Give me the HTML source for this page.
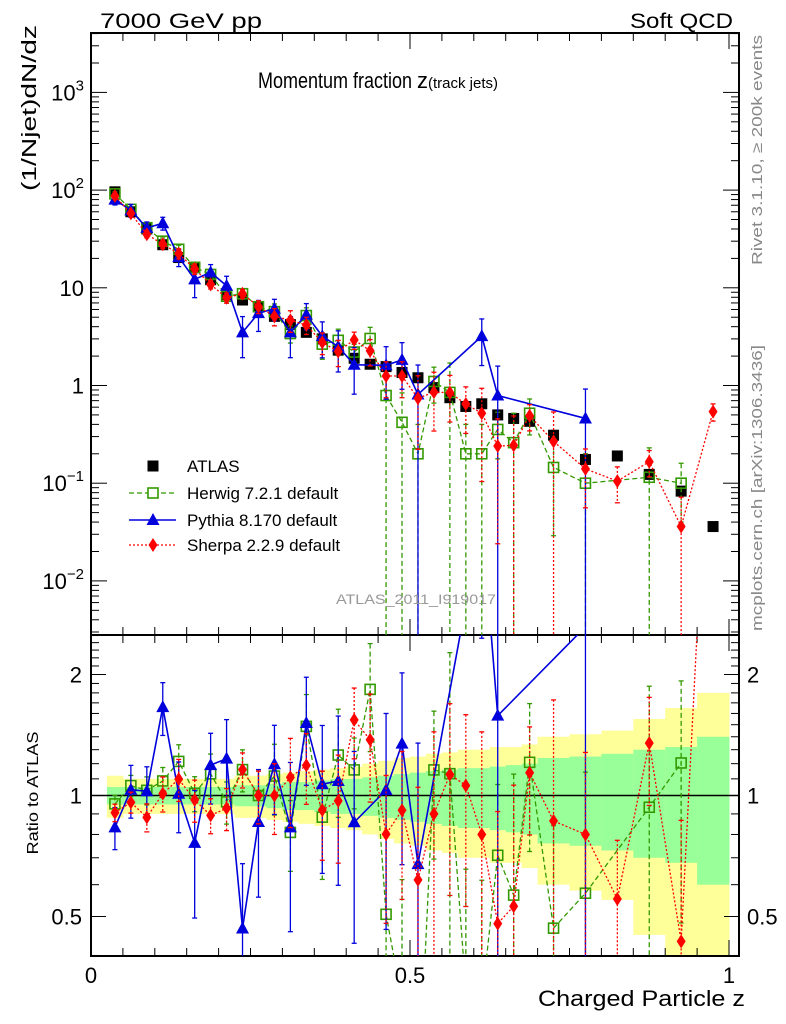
<!DOCTYPE html>
<html><head><meta charset="utf-8">
<style>
html,body{margin:0;padding:0;background:#fff;width:786px;height:1024px;overflow:hidden;}
svg{display:block;font-family:"Liberation Sans",Arial,sans-serif;}
</style></head>
<body>
<svg id="chart" width="786" height="1024" viewBox="0 0 786 1024" xmlns="http://www.w3.org/2000/svg" overflow="hidden">
<defs>
<clipPath id="clipU"><rect x="91" y="33" width="648" height="602"/></clipPath>
<clipPath id="clipR"><rect x="91" y="635" width="648" height="321"/></clipPath>
</defs>
<rect x="0" y="0" width="786" height="1024" fill="#fff"/>
<g id="bands" clip-path="url(#clipR)"></g>
<g id="axes"></g>
<g id="marksU" clip-path="url(#clipU)"></g>
<g id="marksR" clip-path="url(#clipR)"></g>
<text x="100" y="28" font-size="21" textLength="162" lengthAdjust="spacingAndGlyphs">7000 GeV pp</text>
<text x="733" y="28" font-size="21" text-anchor="end" textLength="103" lengthAdjust="spacingAndGlyphs">Soft QCD</text>
<text x="258" y="88" font-size="22"><tspan textLength="159" lengthAdjust="spacingAndGlyphs">Momentum fraction </tspan><tspan font-size="22">z</tspan><tspan font-size="15">(track jets)</tspan></text>
<text transform="translate(36,108) rotate(-90)" font-size="20" text-anchor="middle" textLength="166" lengthAdjust="spacingAndGlyphs">(1/Njet)dN/dz</text>
<text transform="translate(38,793) rotate(-90)" font-size="16" text-anchor="middle" textLength="123" lengthAdjust="spacingAndGlyphs">Ratio to ATLAS</text>
<text x="745" y="1006" font-size="22" text-anchor="end" textLength="207" lengthAdjust="spacingAndGlyphs">Charged Particle z</text>
<text transform="translate(762,150) rotate(-90)" font-size="15" fill="#888" text-anchor="middle" textLength="230" lengthAdjust="spacingAndGlyphs">Rivet 3.1.10, ≥ 200k events</text>
<text transform="translate(762,488) rotate(-90)" font-size="15" fill="#888" text-anchor="middle" textLength="286" lengthAdjust="spacingAndGlyphs">mcplots.cern.ch [arXiv:1306.3436]</text>
<text x="416" y="604" font-size="14" fill="#999" text-anchor="middle" textLength="160" lengthAdjust="spacingAndGlyphs">ATLAS_2011_I919017</text>
<g id="legend"></g>
</svg>
<script>
// ---- data ----
const zCenters = [0.0375,0.0625,0.0875,0.1125,0.1375,0.1625,0.1875,0.2125,0.2375,0.2625,0.2875,0.3125,0.3375,0.3625,0.3875,0.4125,0.4375,0.4625,0.4875,0.5125,0.5375,0.5625,0.5875,0.6125,0.6375,0.6625,0.6875,0.725,0.775,0.825,0.875,0.925,0.975];
const zWidths = [0.025,0.025,0.025,0.025,0.025,0.025,0.025,0.025,0.025,0.025,0.025,0.025,0.025,0.025,0.025,0.025,0.025,0.025,0.025,0.025,0.025,0.025,0.025,0.025,0.025,0.025,0.025,0.05,0.05,0.05,0.05,0.05,0.05];
const atlasValues = [96,60,40,27.6,20.4,16,12.1,8.5,7.5,6.4,5.1,4.2,3.5,3.0,2.3,1.9,1.65,1.56,1.36,1.2,0.95,0.75,0.61,0.65,0.5,0.46,0.43,0.31,0.175,0.19,0.123,0.083,0.036];
const atlasErrOuter = [0.12,0.1,0.1,0.1,0.1,0.1,0.1,0.1,0.12,0.12,0.13,0.14,0.15,0.16,0.17,0.18,0.2,0.22,0.24,0.25,0.27,0.28,0.3,0.3,0.32,0.32,0.34,0.4,0.42,0.45,0.55,0.65,0.8];
const atlasErrInner = [0.05,0.05,0.05,0.05,0.05,0.05,0.05,0.05,0.06,0.06,0.07,0.08,0.08,0.09,0.1,0.1,0.11,0.12,0.13,0.14,0.15,0.16,0.17,0.17,0.18,0.19,0.2,0.24,0.25,0.27,0.3,0.32,0.4];
const herwigValues = [91.5,63.5,41.2,30,24.8,16.2,13.7,8.2,8.7,6.4,5.7,3.4,5.2,2.65,2.9,2.2,3.03,0.79,0.42,0.2,1.1,0.85,0.2,0.2,0.355,0.26,0.52,0.145,0.1,null,0.115,0.1,null];
const herwigRelErr = [0.05,0.06,0.08,0.08,0.1,0.1,0.12,0.12,0.12,0.15,0.2,0.2,0.2,0.3,0.3,0.2,0.3,1.0,1.0,1.0,0.4,1.0,1.0,1.0,0.5,1.0,0.4,0.8,1.0,null,1.0,0.6,null];
const pythiaValues = [80,62,41,45.8,20.6,12.2,14.4,10.5,3.5,5.5,6.1,3.5,5.3,3.2,2.5,1.63,null,1.61,1.83,0.81,null,null,null,3.2,0.79,null,null,null,0.46,null,null,null,null];
const pythiaRelErr = [0.12,0.15,0.15,0.15,0.2,0.35,0.2,0.25,0.45,0.35,0.25,0.45,0.3,0.4,0.45,0.5,null,0.55,0.5,1.0,null,null,null,0.5,1.0,null,null,null,1.0,null,null,null,null];
const sherpaValues = [87,57.7,35.3,27.9,22.4,15.6,10.8,7.9,8.7,6.4,5.1,4.66,4.16,2.76,2.23,2.93,2.27,1.25,1.25,0.74,0.855,0.846,0.646,0.52,0.24,0.244,0.49,0.268,0.14,0.105,0.166,0.036,0.54];
const sherpaRelErr = [0.05,0.06,0.08,0.1,0.12,0.12,0.1,0.12,0.1,0.15,0.2,0.25,0.2,0.25,0.3,0.2,0.3,0.4,0.4,0.7,0.6,0.5,0.5,0.8,0.9,1.0,0.3,1.0,0.6,0.4,0.3,1.0,0.2];
const upperTickDecades = [-2,-1,0,1,2,3];
const upperTickLabels = ["10","10","1","10","10","10"];
const upperTickExps = ["−2","−1","","","2","3"];
const ratioTickValues = [0.5,1,2];
const ratioTickLabels = ["0.5","1","2"];
const xTickValues = [0,0.5,1];
const xTickLabels = ["0","0.5","1"];

// ---- scales ----
const X0=91, X1=739, UT=33, UB=635, RT=635, RB=956;
function xS(z){return 91+638*z;}
function yU(v){return 385.5-97.7*Math.log10(v);}
function yR(r){return 795.5-402*Math.log10(r);}
const NS="http://www.w3.org/2000/svg";
function mk(tag,attrs,parent){const e=document.createElementNS(NS,tag);for(const k in attrs)e.setAttribute(k,attrs[k]);parent.appendChild(e);return e;}

// ---- bands ----
const bands=document.getElementById('bands');
for(let i=0;i<zCenters.length;i++){
  const xl=xS(zCenters[i]-zWidths[i]/2), xr=xS(zCenters[i]+zWidths[i]/2);
  const lo=1-atlasErrOuter[i], hi=1+atlasErrOuter[i];
  const r1=mk('rect',{x:xl,y:yR(hi),width:xr-xl+0.5,height:(lo>0?yR(lo):RB)-yR(hi),fill:'#ffff99'},bands);
  
  
  const lo2=1-atlasErrInner[i], hi2=1+atlasErrInner[i];
  const r2=mk('rect',{x:xl,y:yR(hi2),width:xr-xl+0.5,height:yR(lo2)-yR(hi2),fill:'#99ff99'},bands);
  
  
}

// ---- axes ----
const ax=document.getElementById('axes');
function line(x1,y1,x2,y2,p,w){return mk('line',{x1:x1,y1:y1,x2:x2,y2:y2,stroke:'#000','stroke-width':w||1},p);}
const fU=mk('rect',{x:X0,y:UT,width:X1-X0,height:UB-UT,fill:'none',stroke:'#000','stroke-width':2},ax);


const fR=mk('rect',{x:X0,y:RT,width:X1-X0,height:RB-RT,fill:'none',stroke:'#000','stroke-width':2},ax);


for(let k=0;k<=20;k++){
  const z=k*0.05, x=xS(z);
  const L=(k%10===0)?16:8;
  line(x,UB,x,UB-L,ax); line(x,UT,x,UT+L,ax);
  line(x,RB,x,RB-L,ax); line(x,RT,x,RT+L,ax);
}
xTickValues.forEach((v,i)=>{
  const t=mk('text',{x:xS(v),y:983,'font-size':22,'text-anchor':'middle'},ax);
  t.textContent=xTickLabels[i];
  
  
});
for(let d=-3;d<=3;d++){
  for(let m=1;m<=9;m++){
    const v=m*Math.pow(10,d), y=yU(v);
    if(y<UT||y>UB)continue;
    const L=(m===1)?16:8;
    line(X0,y,X0+L,y,ax); line(X1,y,X1-L,y,ax);
  }
}
upperTickDecades.forEach((d,i)=>{
  const y=yU(Math.pow(10,d));
  const t=mk('text',{x:84,y:y+8,'font-size':22,'text-anchor':'end'},ax);
  
  
  if(upperTickExps[i]===""){t.textContent=upperTickLabels[i];}
  else{
    const a=document.createElementNS(NS,'tspan');a.textContent=upperTickLabels[i];t.appendChild(a);
    const b=document.createElementNS(NS,'tspan');b.setAttribute('dy','-10');b.setAttribute('font-size','15');b.textContent=upperTickExps[i];t.appendChild(b);
  }
});
[0.4,0.5,0.6,0.7,0.8,0.9,1,1.1,1.2,1.3,1.4,1.5,1.6,1.7,1.8,1.9,2,2.1,2.2,2.3,2.4,2.5].forEach(v=>{
  const y=yR(v); if(y<RT||y>RB)return;
  const L=(v===0.5||v===1||v===2)?15:8;
  line(X0,y,X0+L,y,ax); line(X1,y,X1-L,y,ax);
});
ratioTickValues.forEach((v,i)=>{
  const y=yR(v)+8;
  const t=mk('text',{x:82,y:y,'font-size':22,'text-anchor':'end'},ax);
  t.textContent=ratioTickLabels[i];
  
  
  const t2=mk('text',{x:747,y:y,'font-size':22},ax);
  t2.textContent=ratioTickLabels[i];
  
  
});
const ref=line(X0,yR(1),X1,yR(1),ax,1.5);


// ---- markers ----
function marker(kind,x,y,p,color){
  let e;
  if(kind==='sq') e=mk('rect',{x:x-5.5,y:y-5.5,width:11,height:11,fill:'#000'},p);
  else if(kind==='osq') e=mk('rect',{x:x-5,y:y-5,width:10,height:10,fill:'#fff','fill-opacity':0,stroke:color,'stroke-width':1.6},p);
  else if(kind==='tri') e=mk('polygon',{points:(x)+','+(y-7)+' '+(x-6.5)+','+(y+5)+' '+(x+6.5)+','+(y+5),fill:color},p);
  else e=mk('polygon',{points:x+','+(y-7)+' '+(x+4.5)+','+y+' '+x+','+(y+7)+' '+(x-4.5)+','+y,fill:color},p);
  return e;
}
const series=[
  {name:'herwig',vals:herwigValues,err:herwigRelErr,color:'#339900',dash:'5,3',kind:'osq',w:1.3},
  {name:'pythia',vals:pythiaValues,err:pythiaRelErr,color:'#0000dd',dash:'',kind:'tri',w:1.6},
  {name:'sherpa',vals:sherpaValues,err:sherpaRelErr,color:'#ff0000',dash:'2,2',kind:'dia',w:1.3}
];
const gU=document.getElementById('marksU'), gR=document.getElementById('marksR');
function drawSeries(s,g,fy,ratio){
  const pts=[];
  for(let i=0;i<zCenters.length;i++){
    const v=s.vals[i]; if(v===null)continue;
    const base=ratio?atlasValues[i]:1;
    const c=v/base, e=v*s.err[i]/base;
    const x=xS(zCenters[i]), y=fy(c);
    const ytop=fy(c+e), ybot=(c-e>0)?fy(c-e):(ratio?RB+5:UB+5);
    const eb=mk('line',{x1:x,y1:ytop,x2:x,y2:ybot,stroke:s.color,'stroke-width':1.3,'stroke-dasharray':s.dash},g);
    
    
    mk('line',{x1:x-2.5,y1:ytop,x2:x+2.5,y2:ytop,stroke:s.color,'stroke-width':1.3},g);
    mk('line',{x1:x-2.5,y1:ybot,x2:x+2.5,y2:ybot,stroke:s.color,'stroke-width':1.3},g);
    pts.push([x,y]);
  }
  const pl=mk('polyline',{points:pts.map(p=>p.join(',')).join(' '),fill:'none',stroke:s.color,'stroke-width':s.w,'stroke-dasharray':s.dash},g);
  
  
  pts.forEach(p=>{
    const m=marker(s.kind,p[0],p[1],g,s.color);
    
    
  });
}
for(let i=0;i<zCenters.length;i++){
  const m=marker('sq',xS(zCenters[i]),yU(atlasValues[i]),gU);
  
  
}
series.forEach(s=>drawSeries(s,gU,yU,false));
series.forEach(s=>drawSeries(s,gR,yR,true));

// ---- legend ----
const lg=document.getElementById('legend');
const legendNames=["ATLAS","Herwig 7.2.1 default","Pythia 8.170 default","Sherpa 2.2.9 default"];
const legendY=[466,493,520,545];
const lm0=marker('sq',153,legendY[0],lg);


series.forEach((s,k)=>{
  const y=legendY[k+1];
  const l=mk('line',{x1:129,y1:y,x2:176,y2:y,stroke:s.color,'stroke-width':s.w,'stroke-dasharray':s.dash},lg);
  
  
  const m=marker(s.kind,153,y,lg,s.color);
  if(s.kind==='osq')m.setAttribute('fill-opacity','1');
  
  
});
legendNames.forEach((n,k)=>{
  const t=mk('text',{x:187,y:legendY[k]+6,'font-size':17},lg);
  t.textContent=n;
  
  
});
</script>
</body></html>
